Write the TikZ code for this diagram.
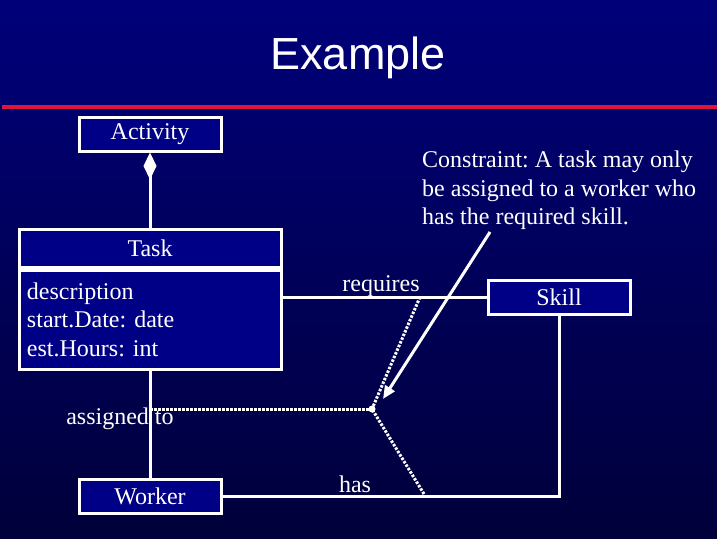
\documentclass[tikz,border=0pt]{standalone}
\usepackage{fontspec}
\setmainfont{Liberation Serif}
\newfontfamily\titlefont{Liberation Sans}
\usetikzlibrary{arrows.meta, positioning}
\frenchspacing

\definecolor{slidetop}{RGB}{0,0,122}
\definecolor{slidebot}{RGB}{0,0,58}
\definecolor{boxfill}{RGB}{0,0,135}
\definecolor{rulered}{RGB}{222,22,62}

\begin{document}
\begin{tikzpicture}[
  x=1pt, y=-1pt,
  cls/.style   = {rectangle, draw=white, line width=3pt, fill=boxfill,
                  text=white, font=\fontsize{24}{28.5}\selectfont,
                  minimum width=142pt, minimum height=34pt, inner sep=0pt},
  assoc/.style = {draw=white, line width=3pt},
  link/.style  = {draw=white, line width=3pt, dash pattern=on 2.5pt off 1.5pt},
  lbl/.style   = {text=white, font=\fontsize{24}{28.5}\selectfont, inner sep=0pt},
]

% ── Slide background ─────────────────────────────────────────────────────────
\useasboundingbox (0,0) rectangle (717,538);
\shade[top color=slidetop, bottom color=slidebot] (0,0) rectangle (717,538);

% ── Title ────────────────────────────────────────────────────────────────────
\node[text=white, font=\titlefont\fontsize{45}{50}\selectfont] (title) at (358,58) {Example};
\draw[rulered, line width=4.5pt] (2,107) -- (717,107);

% ── Classes ──────────────────────────────────────────────────────────────────
\node[cls] (activity) at (150,134) {Activity};
\node[cls, minimum width=262pt, minimum height=38pt] (task) at (150,248) {Task};
\node[cls, minimum width=262pt, minimum height=99pt, anchor=north,
      align=left, text width=246pt, inner xsep=8pt] (attrs) at (task.south)
  {description\\start.Date: date\\est.Hours: int};
\node[cls] (skill)  at (559,297) {Skill};
\node[cls] (worker) at (150,496) {Worker};

% ── Associations ─────────────────────────────────────────────────────────────
\draw[assoc, {Diamond[length=27pt, width=13pt]}-] (activity) -- (task);
\draw[assoc] (attrs.east |- skill.west) -- (skill.west);
\draw[assoc] (attrs.south) -- (worker.north);
\draw[assoc] (skill.south) |- (worker.east);

\node[lbl] (req) at (381,286) {requires};
\node[lbl] (asg) at (120,419) {assigned to};
\node[lbl] (has) at (355,484) {has};

% ── Constraint ───────────────────────────────────────────────────────────────
\coordinate (ja) at (150,409);
\coordinate (j)  at (372,409);
\coordinate (jr) at (420,297);
\coordinate (jh) at (424,494);
\draw[link] (ja) -- (j);
\draw[link] (jr) -- (j);
\draw[link] (jh) -- (j);
\fill[white] (j) circle (3.5pt);

\node[lbl, anchor=north west, align=left] (note) at (422,151)
  {Constraint: A task may only\\be assigned to a worker who\\has the required skill.};
\coordinate (nt) at (490,232);
\coordinate (ne) at (383,399);
\draw[assoc, -{Triangle[length=13pt, width=11pt]}] (nt) -- (ne);

\end{tikzpicture}
\end{document}
